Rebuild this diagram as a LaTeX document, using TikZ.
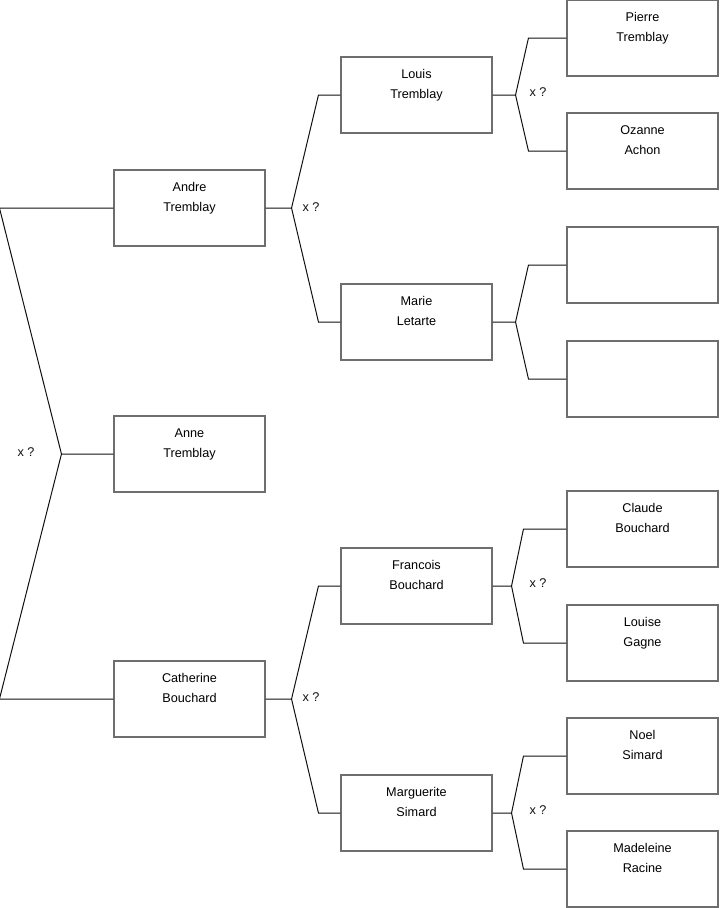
\documentclass[tikz,border=0pt]{standalone}
\usepackage{fontspec}
\setmainfont{Liberation Sans}
\usetikzlibrary{positioning,calc}
\usepackage{xcolor}
\definecolor{ftGray}{HTML}{6E6E6E}
\definecolor{ftInk}{HTML}{111111}

\begin{document}
\begin{tikzpicture}[x=0.75pt, y=-0.75pt,
  pbox/.style={draw=ftGray, line width=0.8pt, minimum width=113.25pt, minimum height=57pt, inner sep=0pt,
    align=center, font=\fontsize{9.5}{15}\selectfont, text height=7pt, text depth=2.5pt},
  lnk/.style={draw=ftInk, line width=0.75pt},
  xq/.style={font=\fontsize{9.5}{12}\selectfont, text=ftInk, inner sep=0pt}]
\useasboundingbox (0,0) rectangle (719,908);
% generation 1
\node[pbox] (anne) at (189.5,454) {Anne\\Tremblay};
% generation 2
\node[pbox] (andre) at (189.5,208) {Andre\\Tremblay};
\node[pbox] (catherine) at (189.5,699) {Catherine\\Bouchard};
% generation 3
\node[pbox] (louis) at (416.5,95) {Louis\\Tremblay};
\node[pbox] (marie) at (416.5,322) {Marie\\Letarte};
\node[pbox] (francois) at (416.5,586) {Francois\\Bouchard};
\node[pbox] (marguerite) at (416.5,813) {Marguerite\\Simard};
% generation 4
\node[pbox] (pierre) at (642.5,38) {Pierre\\Tremblay};
\node[pbox] (ozanne) at (642.5,151) {Ozanne\\Achon};
\node[pbox] (emptyA) at (642.5,265) {};
\node[pbox] (emptyB) at (642.5,379) {};
\node[pbox] (claude) at (642.5,529) {Claude\\Bouchard};
\node[pbox] (louise) at (642.5,643) {Louise\\Gagne};
\node[pbox] (noel) at (642.5,756) {Noel\\Simard};
\node[pbox] (madeleine) at (642.5,869) {Madeleine\\Racine};

% forks
\draw[lnk] (anne.west) -- ++(-52,0) coordinate (jAnne) -- ($(andre.west)+(-114,0)$) -- (andre.west);
\draw[lnk] (jAnne) -- ($(catherine.west)+(-114,0)$) -- (catherine.west);
\draw[lnk] (andre.east) -- ++(26,0) coordinate (jAndre) -- ($(louis.west)+(-22,0)$) -- (louis.west);
\draw[lnk] (jAndre) -- ($(marie.west)+(-22,0)$) -- (marie.west);
\draw[lnk] (catherine.east) -- ++(26,0) coordinate (jCath) -- ($(francois.west)+(-22,0)$) -- (francois.west);
\draw[lnk] (jCath) -- ($(marguerite.west)+(-22,0)$) -- (marguerite.west);
\draw[lnk] (louis.east) -- ++(23,0) coordinate (jLouis) -- ($(pierre.west)+(-38,0)$) -- (pierre.west);
\draw[lnk] (jLouis) -- ($(ozanne.west)+(-38,0)$) -- (ozanne.west);
\draw[lnk] (marie.east) -- ++(23,0) coordinate (jMarie) -- ($(emptyA.west)+(-38,0)$) -- (emptyA.west);
\draw[lnk] (jMarie) -- ($(emptyB.west)+(-38,0)$) -- (emptyB.west);
\draw[lnk] (francois.east) -- ++(19,0) coordinate (jFran) -- ($(claude.west)+(-43,0)$) -- (claude.west);
\draw[lnk] (jFran) -- ($(louise.west)+(-43,0)$) -- (louise.west);
\draw[lnk] (marguerite.east) -- ++(19,0) coordinate (jMarg) -- ($(noel.west)+(-43,0)$) -- (noel.west);
\draw[lnk] (jMarg) -- ($(madeleine.west)+(-43,0)$) -- (madeleine.west);

% marriage marks
\node[xq] (xAnne) at (26,452) {x ?};
\node[xq] (xAndre) at (311,207) {x ?};
\node[xq] (xCath) at (311,697) {x ?};
\node[xq] (xLouis) at (538,92) {x ?};
\node[xq] (xFran) at (538,583) {x ?};
\node[xq] (xMarg) at (538,810) {x ?};
\end{tikzpicture}
\end{document}
